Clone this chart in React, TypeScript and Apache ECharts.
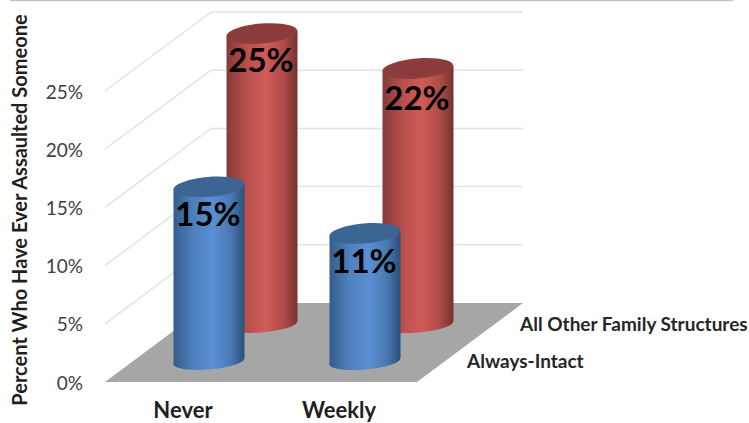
import React, { useEffect, useRef } from "react";
import * as echarts from "echarts";

const categories = ["Never", "Weekly"];
const seriesNames = ["Always-Intact", "All Other Family Structures"];
const alwaysIntact = [15, 11];
const allOther = [25, 22];
const yTicks = [0, 5, 10, 15, 20, 25];

const FONT = "Lato, Carlito, 'Open Sans', sans-serif";
const WALL_DX = 106;
const WALL_DY = -79;
const RADIUS = 35.5;
const TILT = 3;

function gradient(c: string[]) {
  return new echarts.graphic.LinearGradient(0, 0, 1, 0, [
    { offset: 0, color: c[0] },
    { offset: 0.28, color: c[1] },
    { offset: 0.55, color: c[2] },
    { offset: 0.8, color: c[3] },
    { offset: 1, color: c[4] },
  ]);
}

function cylinderSeries(
  name: string,
  values: number[],
  look: { dx: number; dy: number; side: any; top: string; z: number; gap: number[] }
) {
  return {
    type: "custom",
    name,
    z: look.z,
    clip: false,
    silent: true,
    encode: { x: 0, y: 1 },
    data: values.map((v, i) => [i, v]),
    renderItem: (params: any, api: any) => {
      const i = api.value(0);
      const v = api.value(1);
      const base = api.coord([i, 0]);
      const top = api.coord([i, v]);
      const cx = base[0] + look.dx;
      const by = base[1] + look.dy;
      const ty = top[1] + look.dy;
      const rot = Math.atan2(TILT, RADIUS);
      const children: any[] = [
        {
          type: "ellipse",
          shape: { cx, cy: by, rx: RADIUS, ry: 8 },
          rotation: rot,
          originX: cx,
          originY: by,
          style: { fill: look.side },
        },
        {
          type: "polygon",
          shape: {
            points: [
              [cx - RADIUS, ty + TILT],
              [cx + RADIUS, ty - TILT],
              [cx + RADIUS, by - TILT],
              [cx - RADIUS, by + TILT],
            ],
          },
          style: { fill: look.side },
        },
        {
          type: "ellipse",
          shape: { cx, cy: ty, rx: RADIUS, ry: 10 },
          rotation: rot,
          originX: cx,
          originY: ty,
          style: { fill: look.top },
        },
        {
          type: "text",
          style: {
            text: `${v}%`,
            x: cx - 1,
            y: ty + look.gap[i],
            align: "center",
            verticalAlign: "middle",
            fontFamily: FONT,
            fontWeight: "bold",
            fontSize: 33,
            fill: "#000000",
          },
        },
      ];
      if (i === values.length - 1) {
        const rightEdge = params.coordSys.x + params.coordSys.width;
        children.push({
          type: "text",
          style: {
            text: name,
            x: rightEdge + look.dx + 24,
            y: by - 1,
            align: "left",
            verticalAlign: "middle",
            fontFamily: FONT,
            fontWeight: "bold",
            fontSize: 19,
            fill: "#262626",
          },
        });
      }
      return { type: "group", children };
    },
  };
}

const wallSeries = {
  type: "custom",
  name: "walls",
  z: 1,
  clip: false,
  silent: true,
  encode: { x: 0, y: 1 },
  data: yTicks.map((t) => [0, t]),
  renderItem: (params: any, api: any) => {
    const cs = params.coordSys;
    const v = api.value(1);
    const y = api.coord([0, v])[1];
    const x0 = cs.x;
    const x1 = cs.x + cs.width;
    if (v === 0) {
      return {
        type: "polygon",
        shape: {
          points: [
            [x0, y],
            [x1, y],
            [x1 + WALL_DX, y + WALL_DY],
            [x0 + WALL_DX, y + WALL_DY],
          ],
        },
        style: { fill: "#a6a6a6" },
      };
    }
    return {
      type: "polyline",
      shape: {
        points: [
          [x0, y],
          [x0 + WALL_DX, y + WALL_DY],
          [x1 + WALL_DX, y + WALL_DY],
        ],
      },
      style: { fill: "none", stroke: "#e3e3e3", lineWidth: 1.5 },
    };
  },
};

export default function App() {
  const ref = useRef<HTMLDivElement>(null);
  useEffect(() => {
    document.body.style.margin = "0";
    const chart = echarts.init(ref.current!, undefined, { renderer: "svg" });
    chart.setOption({
      animation: false,
      backgroundColor: "#ffffff",
      grid: { left: 105, top: 91, width: 312, height: 291, containLabel: false },
      graphic: [
        {
          type: "line",
          shape: { x1: 10, y1: 0.5, x2: 733, y2: 0.5 },
          style: { stroke: "#c4c4c4", lineWidth: 1.5 },
        },
      ],
      xAxis: {
        type: "category",
        data: categories,
        axisLine: { show: false },
        axisTick: { show: false },
        axisLabel: {
          fontFamily: FONT,
          fontWeight: "bold",
          fontSize: 22,
          color: "#1f1f1f",
          margin: 16,
        },
      },
      yAxis: {
        type: "value",
        min: 0,
        max: 25,
        interval: 5,
        name: "Percent Who Have Ever Assaulted Someone",
        nameLocation: "middle",
        nameRotate: 90,
        nameGap: 76,
        nameTextStyle: {
          fontFamily: FONT,
          fontWeight: "bold",
          fontSize: 20,
          color: "#1f1f1f",
          padding: [0, 0, 0, 53],
        },
        axisLine: { show: false },
        axisTick: { show: false },
        splitLine: { show: false },
        axisLabel: {
          formatter: "{value}%",
          fontFamily: FONT,
          fontSize: 19,
          color: "#404040",
          margin: 22,
        },
      },
      series: [
        wallSeries,
        cylinderSeries(seriesNames[1], allOther, {
          dx: 79,
          dy: -57.5,
          side: gradient(["#853b39", "#b84f4d", "#d05b58", "#b04c49", "#753331"]),
          top: "#8c3d3b",
          z: 2,
          gap: [25, 29],
        }),
        cylinderSeries(seriesNames[0], alwaysIntact, {
          dx: 26,
          dy: -20.5,
          side: gradient(["#345d8c", "#4f80bd", "#5b8fd4", "#4a7ab5", "#2b4f78"]),
          top: "#3d6593",
          z: 3,
          gap: [26, 27],
        }),
      ],
    });
    return () => chart.dispose();
  }, []);
  return <div ref={ref} style={{ width: 749, height: 423 }} />;
}
